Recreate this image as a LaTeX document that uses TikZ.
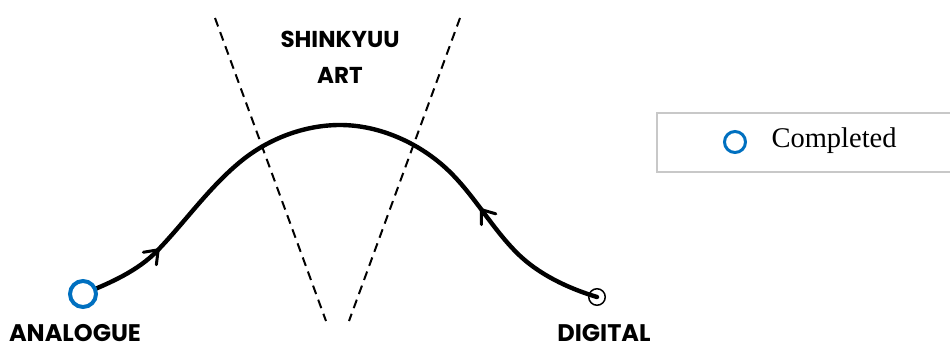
\documentclass[tikz,border=0pt]{standalone}
\usepackage{fontspec}
\setmainfont{Liberation Serif}
\newfontfamily\labfont{Poppins}[UprightFont=*-Bold]
\usetikzlibrary{decorations.markings}
\definecolor{compblue}{RGB}{0,112,192}
\definecolor{legendgray}{RGB}{200,200,200}
\tikzset{
  cut/.style={dashed,dash pattern=on 9pt off 6pt,line width=2pt},
  barb/.style={line width=3pt,line cap=round,line join=round},
  flow/.style={line width=4.4pt,line cap=round,
    postaction={decorate,decoration={markings,
      mark=at position 0.138 with {\draw[barb] (-12pt,9pt) -- (0pt,0pt) -- (-12pt,-9pt);},
      mark=at position 0.767 with {\draw[barb] (12pt,9pt) -- (0pt,0pt) -- (12pt,-9pt);}}}},
  lab/.style={font=\labfont\fontsize{24}{28}\selectfont,inner sep=0pt,anchor=base},
  done/.style={circle,draw=compblue,line width=4pt,fill=white,minimum size=26pt,inner sep=0pt},
  todo/.style={circle,draw=black,line width=1.5pt,minimum size=16.5pt,inner sep=0pt},
  legendbox/.style={draw=legendgray,line width=1.5pt},
}
\begin{document}
\begin{tikzpicture}[x=1pt,y=-1pt]
\useasboundingbox (0,0) rectangle (950,345);
% dashed cone
\coordinate (l1) at (215,18);
\coordinate (l2) at (326,321);
\coordinate (r1) at (460,18);
\coordinate (r2) at (349,321);
\draw[cut] (l1) -- (l2);
\draw[cut] (r1) -- (r2);
\node[lab,font=\labfont\fontsize{23}{28}\selectfont] (art1) at (340,48) {SHINKYUU};
\node[lab,font=\labfont\fontsize{23}{28}\selectfont] (art2) at (340,84) {ART};
% nodes
\node[todo] (dg) at (597,297) {};
\coordinate (an0) at (83,294);
\draw[flow] (an0)
  .. controls (110,283) and (138,271) .. (158,250)
  .. controls (185.6,221.2) and (209,187.6) .. (240,162)
  .. controls (267.7,139) and (304,125) .. (340,125)
  .. controls (376,125) and (412.3,140) .. (440,163)
  .. controls (470.8,188.6) and (488.6,224.6) .. (517,253)
  .. controls (538.3,274.3) and (568.2,288.3) .. (dg.center);
\node[done] (an) at (an0) {};
\node[lab] (anl) at (75,341) {ANALOGUE};
\node[lab] (dgl) at (604,341) {DIGITAL};
% legend
\draw[legendbox] (657,113) rectangle (958,172);
\node[circle,draw=compblue,line width=3pt,minimum size=21pt,inner sep=0pt] (lg) at (735,142) {};
\node[anchor=west,font=\fontsize{28.5}{31}\selectfont] (lgt) at (768,141) {Completed};
\end{tikzpicture}
\end{document}
